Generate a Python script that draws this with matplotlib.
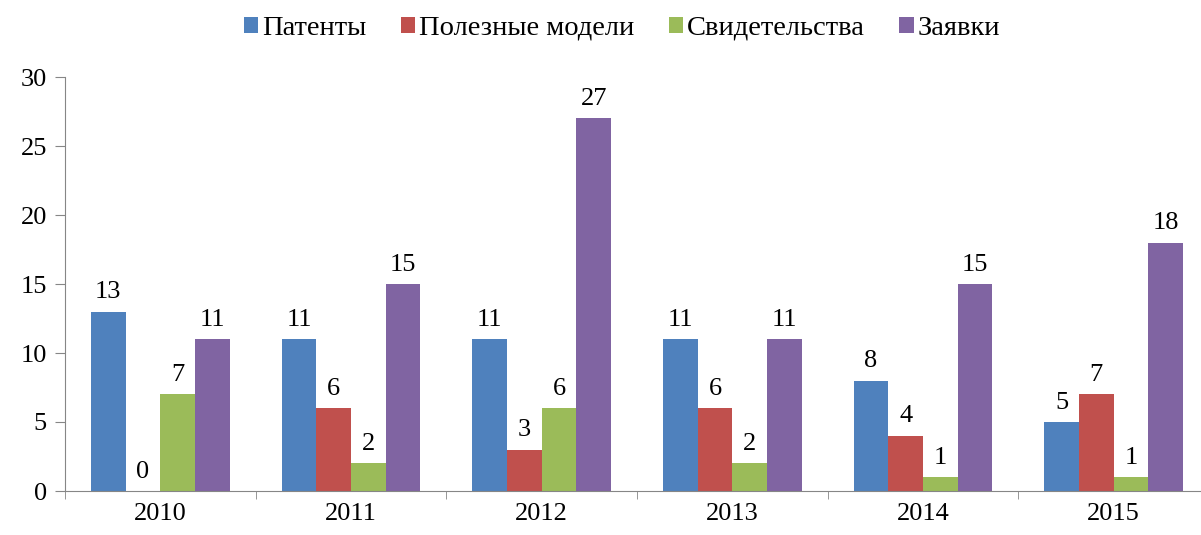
import matplotlib
matplotlib.use("Agg")
import matplotlib.pyplot as plt
import numpy as np

years = ["2010", "2011", "2012", "2013", "2014", "2015"]
series_names = ["Патенты", "Полезные модели", "Свидетельства", "Заявки"]
patents = [13, 11, 11, 11, 8, 5]
utility_models = [0, 6, 3, 6, 4, 7]
certificates = [7, 2, 6, 2, 1, 1]
applications = [11, 15, 27, 11, 15, 18]
colors = ["#4F81BD", "#C0504D", "#9BBB59", "#8064A2"]

plt.rcParams['font.family'] = ['Liberation Serif', 'DejaVu Serif']

fig = plt.figure(figsize=(12.01, 5.35), dpi=100)
L, R, T, B = 65, 1209, 77, 491
ax = fig.add_axes([L / 1201, 1 - B / 535, (R - L) / 1201, (B - T) / 535])

x = np.arange(len(years))
w = 0.182
data = [patents, utility_models, certificates, applications]
for i, (vals, name, c) in enumerate(zip(data, series_names, colors)):
    pos = x + (i - 1.5) * w
    ax.bar(pos, vals, w, color=c, label=name)
    for p, v in zip(pos, vals):
        ax.annotate(str(v), (p, v), xytext=(0, 6), textcoords="offset points",
                    ha="center", va="bottom", fontsize=19)

ax.set_xlim(-0.5, len(years) - 0.5)
ax.set_ylim(0, 30)
ax.set_yticks(range(0, 31, 5))
ax.set_xticks(x)
ax.set_xticklabels(years)
ax.set_xticks(np.arange(-0.5, len(years)), minor=True)
ax.tick_params(axis="x", which="major", length=0, labelsize=19, pad=9)
ax.tick_params(axis="x", which="minor", length=6, color="#868686")
ax.tick_params(axis="y", length=7, labelsize=19, color="#868686", pad=6)
for s in ["top", "right"]:
    ax.spines[s].set_visible(False)
for s in ["left", "bottom"]:
    ax.spines[s].set_color("#868686")

fig.legend(loc="upper center", bbox_to_anchor=(0.518, 1.018), ncol=4, frameon=False,
           fontsize=20.5, handlelength=0.5, handleheight=0.5, handletextpad=0.15,
           columnspacing=1.2)

fig.savefig("out.png", dpi=100)
